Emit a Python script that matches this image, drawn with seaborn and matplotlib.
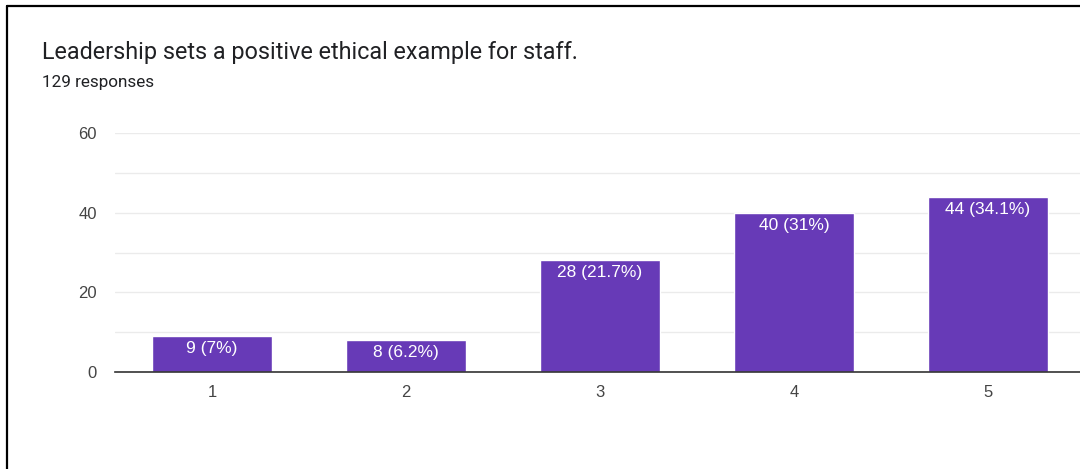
import matplotlib
matplotlib.use("Agg")
import matplotlib.pyplot as plt
from matplotlib.lines import Line2D
from matplotlib.ticker import MultipleLocator
import seaborn as sns
import pandas as pd

# Survey data
ratings = ["1", "2", "3", "4", "5"]
counts = [9, 8, 28, 40, 44]
percents = ["7%", "6.2%", "21.7%", "31%", "34.1%"]
title = "Leadership sets a positive ethical example for staff."
subtitle = "129 responses"

df = pd.DataFrame({"rating": ratings, "count": counts})

sns.set_theme(style="white")
plt.rcParams["font.family"] = ["Liberation Sans", "DejaVu Sans"]

fig = plt.figure(figsize=(10.8, 4.69), dpi=100)
ax = fig.add_axes([115 / 1080, 97 / 469, 970 / 1080, 239 / 469])

sns.barplot(data=df, x="rating", y="count", color="#673ab7", saturation=1,
            width=0.62, ax=ax, zorder=3)

ax.set_xlim(-0.5, 4.5)
ax.set_ylim(0, 60)
ax.yaxis.set_major_locator(MultipleLocator(20))
ax.yaxis.set_minor_locator(MultipleLocator(10))
ax.grid(True, axis="y", which="both", color="#ebebeb", linewidth=1, zorder=0)
ax.set_axisbelow(True)
ax.set_xlabel("")
ax.set_ylabel("")

for side in ["top", "right", "left"]:
    ax.spines[side].set_visible(False)
ax.spines["bottom"].set_color("#333333")
ax.spines["bottom"].set_linewidth(1.2)
ax.spines["bottom"].set_zorder(4)

ax.tick_params(axis="both", which="both", length=0, labelsize=12,
               labelcolor="#444444")
ax.tick_params(axis="y", pad=13)
ax.tick_params(axis="x", pad=9)

# Value labels inside the top of each bar
for i, (c, p) in enumerate(zip(counts, percents)):
    ax.annotate(f"{c} ({p})", xy=(i, c), xytext=(0, -3.5),
                textcoords="offset points", ha="center", va="top",
                color="white", fontsize=12.5, zorder=5)

fig.text(42 / 1080, 1 - 53 / 469, title, fontsize=16.8, family="Roboto",
         color="#202124", va="center", ha="left")
fig.text(42 / 1080, 1 - 82 / 469, subtitle, fontsize=12.3, family="Roboto",
         color="#202124", va="center", ha="left")

# Frame lines along the top and left edges
fig.add_artist(Line2D([6.5 / 1080, 6.5 / 1080], [0, 1 - 6.5 / 469],
                      transform=fig.transFigure, color="black", linewidth=1.6))
fig.add_artist(Line2D([6.5 / 1080, 1], [1 - 6.5 / 469, 1 - 6.5 / 469],
                      transform=fig.transFigure, color="black", linewidth=1.6))

fig.savefig("out.png", dpi=100)
